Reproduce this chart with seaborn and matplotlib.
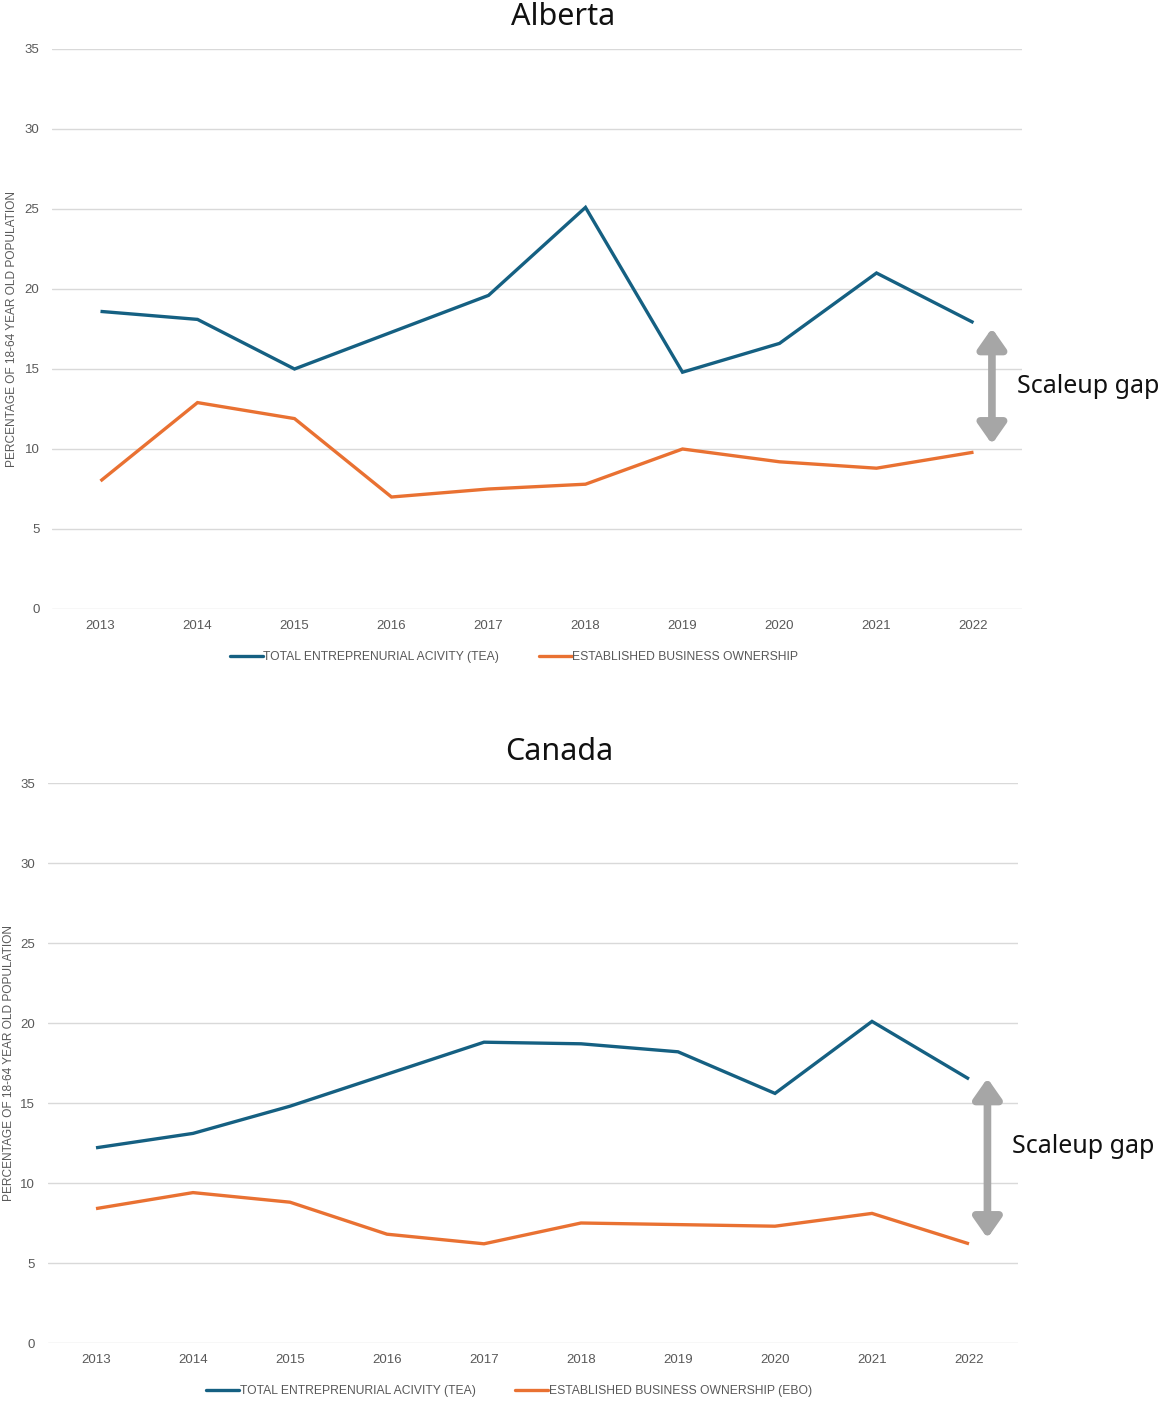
import matplotlib
matplotlib.use("Agg")
import matplotlib.pyplot as plt
from matplotlib.lines import Line2D
import seaborn as sns
import pandas as pd

# ---- data -------------------------------------------------------------
years = [2013, 2014, 2015, 2016, 2017, 2018, 2019, 2020, 2021, 2022]

alberta_tea = [18.6, 18.1, 15.0, 17.3, 19.6, 25.1, 14.8, 16.6, 21.0, 17.9]
alberta_ebo = [8.0, 12.9, 11.9, 7.0, 7.5, 7.8, 10.0, 9.2, 8.8, 9.8]

canada_tea = [12.2, 13.1, 14.8, 16.8, 18.8, 18.7, 18.2, 15.6, 20.1, 16.5]
canada_ebo = [8.4, 9.4, 8.8, 6.8, 6.2, 7.5, 7.4, 7.3, 8.1, 6.2]

tea_label = "TOTAL ENTREPRENURIAL ACIVITY (TEA)"
ebo_label_ab = "ESTABLISHED BUSINESS OWNERSHIP"
ebo_label_ca = "ESTABLISHED BUSINESS OWNERSHIP (EBO)"
y_label = "PERCENTAGE OF 18-64 YEAR OLD POPULATION"
gap_label = "Scaleup gap"
y_ticks = [0, 5, 10, 15, 20, 25, 30, 35]

# ---- style ------------------------------------------------------------
sns.set_theme(style="white")
plt.rcParams["font.family"] = ["Liberation Sans", "DejaVu Sans"]

BLUE = "#156082"
ORANGE = "#E97132"
GRID = "#d9d9d9"
TICK = "#595959"
ARROW = "#a6a6a6"

W, H = 1164, 1403
fig = plt.figure(figsize=(W / 100, H / 100), dpi=100)
fig.patch.set_facecolor("white")


def px_axes(left, top, right, bottom):
    return fig.add_axes([left / W, 1 - bottom / H, (right - left) / W, (bottom - top) / H])


def draw_panel(ax, tea, ebo, ebo_label, title, title_xy, legend_xy,
               arrow_x, arrow_y0, arrow_y1, text_x, text_y, ylabel_x):
    df = pd.DataFrame({
        "year": years * 2,
        "value": tea + ebo,
        "series": [tea_label] * len(years) + [ebo_label] * len(years),
    })
    sns.lineplot(data=df, x="year", y="value", hue="series",
                 palette={tea_label: BLUE, ebo_label: ORANGE},
                 linewidth=2.4, ax=ax, legend=False, zorder=3)
    for ln in ax.get_lines():
        ln.set_solid_joinstyle("miter")
        ln.set_solid_capstyle("butt")

    ax.set_xlim(2012.5, 2022.5)
    ax.set_ylim(0, 35)
    ax.set_yticks(y_ticks)
    ax.set_xticks(years)
    ax.set_xticklabels([str(y) for y in years])
    ax.grid(axis="y", color=GRID, linewidth=1.0, zorder=0)
    ax.grid(axis="x", visible=False)
    for s in ax.spines.values():
        s.set_visible(False)
    ax.tick_params(axis="y", length=0, pad=9, labelsize=9.5, labelcolor=TICK)
    ax.tick_params(axis="x", length=0, pad=8, labelsize=9.5, labelcolor=TICK)
    ax.set_xlabel("")
    ax.set_ylabel(y_label, fontsize=8.6, color=TICK)
    ax.yaxis.set_label_coords(ylabel_x, 0.5)

    fig.text(title_xy[0] / W, 1 - title_xy[1] / H, title,
             ha="center", va="center", fontsize=22, color="#111111",
             family=["Noto Sans", "DejaVu Sans"])

    handles = [Line2D([], [], color=BLUE, linewidth=2.4),
               Line2D([], [], color=ORANGE, linewidth=2.4)]
    fig.legend(handles, [tea_label, ebo_label], loc="center",
               bbox_to_anchor=(legend_xy[0] / W, 1 - legend_xy[1] / H),
               ncol=2, frameon=False, fontsize=8.7, labelcolor=TICK,
               handlelength=2.7, handletextpad=0.05, columnspacing=3.3)

    ax.annotate("", xy=(arrow_x, arrow_y1), xytext=(arrow_x, arrow_y0),
                arrowprops=dict(arrowstyle="<|-|>,head_length=0.6,head_width=0.42",
                                color=ARROW, linewidth=5.5, mutation_scale=20,
                                shrinkA=0, shrinkB=0),
                annotation_clip=False, zorder=4)
    ax.text(text_x, text_y, gap_label, ha="left", va="center", fontsize=18,
            color="#111111", family=["Noto Sans", "DejaVu Sans"], clip_on=False)


ax_top = px_axes(52, 49, 1022, 609)
draw_panel(ax_top, alberta_tea, alberta_ebo, ebo_label_ab, "Alberta", (563, 17), (514, 657),
           2022.19, 17.55, 10.3, 2022.45, 13.9, -0.035)

ax_bot = px_axes(47.5, 783, 1017.5, 1343)
draw_panel(ax_bot, canada_tea, canada_ebo, ebo_label_ca, "Canada", (559, 752), (509, 1391),
           2022.19, 16.55, 6.55, 2022.44, 12.3, -0.033)

fig.savefig("out.png", dpi=100, facecolor="white")
